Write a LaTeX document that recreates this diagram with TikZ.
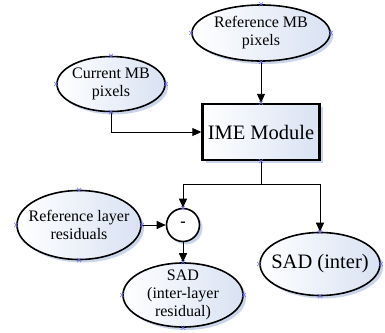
\documentclass[tikz,border=0pt]{standalone}
\usepackage{fontspec}
\setmainfont{Liberation Serif}
\usetikzlibrary{shapes.geometric,shapes.misc,arrows.meta,shadows}
\definecolor{fillb}{HTML}{D9E2F3}
\definecolor{shad}{HTML}{CBD5EA}
\definecolor{mk}{HTML}{6A6AF0}
\begin{document}
\begin{tikzpicture}[x=1pt,y=-1pt,
  ell/.style={ellipse,draw,line width=1.6pt,inner sep=0pt,left color=white,right color=fillb,
    drop shadow={shadow xshift=3pt,shadow yshift=-3pt,fill=shad,opacity=1}},
  box/.style={rectangle,draw,line width=2.4pt,inner sep=0pt,left color=white,right color=fillb,
    drop shadow={shadow xshift=3pt,shadow yshift=-3pt,fill=shad,opacity=1}},
  txt/.style={font=\fontsize{16}{18}\selectfont,align=center,inner sep=0pt},
  big/.style={font=\fontsize{20.5}{23}\selectfont,align=center,inner sep=0pt},
  arr/.style={line width=0.9pt,-{Triangle[length=9pt,width=8pt]}},
  conn/.style={line width=0.9pt},
  cpx/.style={cross out,draw=mk,line width=0.5pt,minimum size=3.5pt,inner sep=0pt}]
\useasboundingbox (0,0) rectangle (385,332);

\node[ell,minimum width=138pt,minimum height=56pt] (ref) at (261,33) {};
\node[txt] at (261,33) {Reference MB\\pixels};

\node[ell,minimum width=108pt,minimum height=55pt] (cur) at (111,84) {};
\node[txt] at (111,84) {Current MB\\pixels};

\node[box,minimum width=117pt,minimum height=56pt] (ime) at (261,132) {};
\node[big] at (261,132) {IME Module};

\node[ell,minimum width=124pt,minimum height=69pt] (rl) at (79,225) {};
\node[txt] at (79,225) {Reference layer\\residuals};

\node[circle,draw,line width=1.6pt,minimum size=33pt,inner sep=0pt,fill=white,
  drop shadow={shadow xshift=3pt,shadow yshift=-3pt,fill=shad,opacity=1}] (minus) at (183,225) {};
\node[font=\fontsize{16}{18}\selectfont\bfseries,inner sep=0pt] at (183,224) {-};

\node[ell,minimum width=120pt,minimum height=64pt] (sadl) at (183,295) {};
\node[txt] at (183,295) {SAD\\(inter-layer\\residual)};

\node[ell,minimum width=120pt,minimum height=63pt] (sadi) at (320,264) {};
\node[big] at (320,264) {SAD (inter)};

\coordinate (j) at (261,184);
\draw[arr] (cur.south) |- (ime.west);
\draw[arr] (ref.south) -- (ime.north);
\draw[conn] (ime.south) -- (j);
\draw[arr] (j) -| (minus.north);
\draw[arr] (j) -| (sadi.north);
\draw[arr] (rl.east) -- (minus.west);
\draw[arr] (minus.south) -- (sadl.north);

\foreach \n in {ref,cur,rl,sadl,sadi}
  \foreach \a in {north,south,east,west}
    \node[cpx] at (\n.\a) {};
\node[cpx] at (ime.north) {};
\node[cpx] at (ime.south) {};
\node[cpx] at (minus.north) {};
\end{tikzpicture}
\end{document}
